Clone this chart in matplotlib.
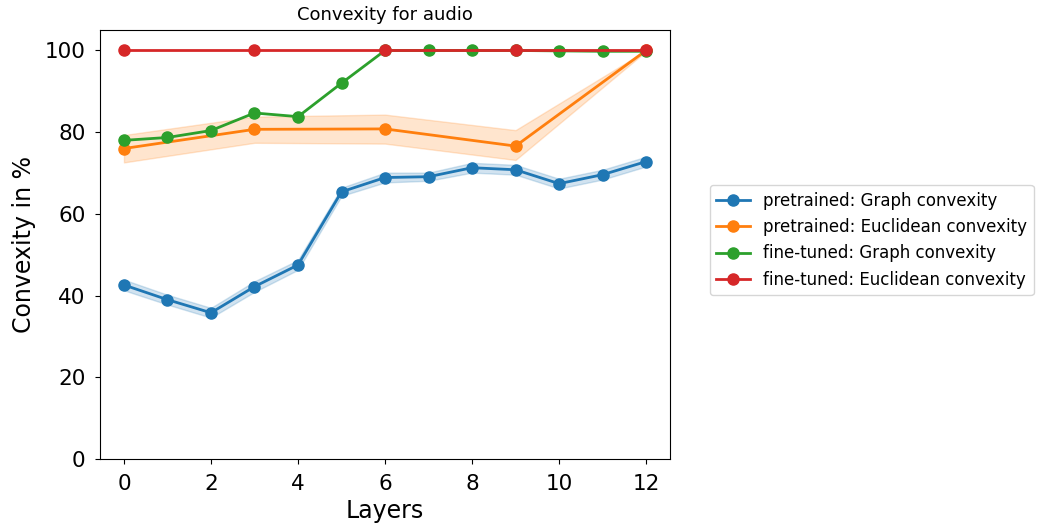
import matplotlib
matplotlib.use("Agg")
import matplotlib.pyplot as plt
import numpy as np

# pretrained: Graph convexity (all layers)
pt_graph_layers = list(range(13))
pt_graph = [42.6, 39.0, 35.8, 42.2, 47.5, 65.4, 68.9, 69.1, 71.3, 70.8, 67.4, 69.6, 72.8]
pt_graph_err = [1.3, 1.2, 1.2, 1.3, 1.2, 1.0, 1.2, 1.0, 1.2, 1.2, 1.2, 1.2, 1.2]

# pretrained: Euclidean convexity (every 3rd layer)
pt_eucl_layers = [0, 3, 6, 9, 12]
pt_eucl = [76.0, 80.7, 80.8, 76.6, 100.0]
pt_eucl_lo = [72.6, 77.4, 77.2, 73.2, 99.8]
pt_eucl_hi = [79.3, 83.8, 84.3, 80.5, 100.0]

# fine-tuned: Graph convexity
ft_graph_layers = list(range(13))
ft_graph = [78.0, 78.7, 80.4, 84.7, 83.8, 92.0, 100.0, 100.0, 100.0, 100.0, 99.9, 99.8, 99.8]

# fine-tuned: Euclidean convexity
ft_eucl_layers = [0, 3, 6, 9, 12]
ft_eucl = [100.0, 100.0, 100.0, 100.0, 100.0]

fig = plt.figure(figsize=(10.42, 5.27), dpi=100)
ax = fig.add_axes([0.096, 0.129, 0.547, 0.814])

pg = np.array(pt_graph)
pe = np.array(pt_graph_err)
ax.plot(pt_graph_layers, pt_graph, "o-", color="C0", lw=2, ms=8,
        label="pretrained: Graph convexity")
ax.fill_between(pt_graph_layers, pg - pe, pg + pe, color="C0", alpha=0.2)

ax.plot(pt_eucl_layers, pt_eucl, "o-", color="C1", lw=2, ms=8,
        label="pretrained: Euclidean convexity")
ax.fill_between(pt_eucl_layers, pt_eucl_lo, pt_eucl_hi, color="C1", alpha=0.2)

ax.plot(ft_graph_layers, ft_graph, "o-", color="C2", lw=2, ms=8,
        label="fine-tuned: Graph convexity")
ax.plot(ft_eucl_layers, ft_eucl, "o-", color="C3", lw=2, ms=8,
        label="fine-tuned: Euclidean convexity")

ax.set_ylim(0, 105)
ax.set_xlim(-0.55, 12.55)
ax.set_xticks([0, 2, 4, 6, 8, 10, 12])
ax.set_yticks([0, 20, 40, 60, 80, 100])
ax.tick_params(labelsize=15.5, pad=7)
ax.set_xlabel("Layers", fontsize=17, labelpad=4)
ax.set_ylabel("Convexity in %", fontsize=17, labelpad=6)
ax.set_title("Convexity for audio", fontsize=13, pad=7)
ax.legend(loc="center left", bbox_to_anchor=(1.055, 0.51), fontsize=12)

fig.savefig("out.png", dpi=100)
